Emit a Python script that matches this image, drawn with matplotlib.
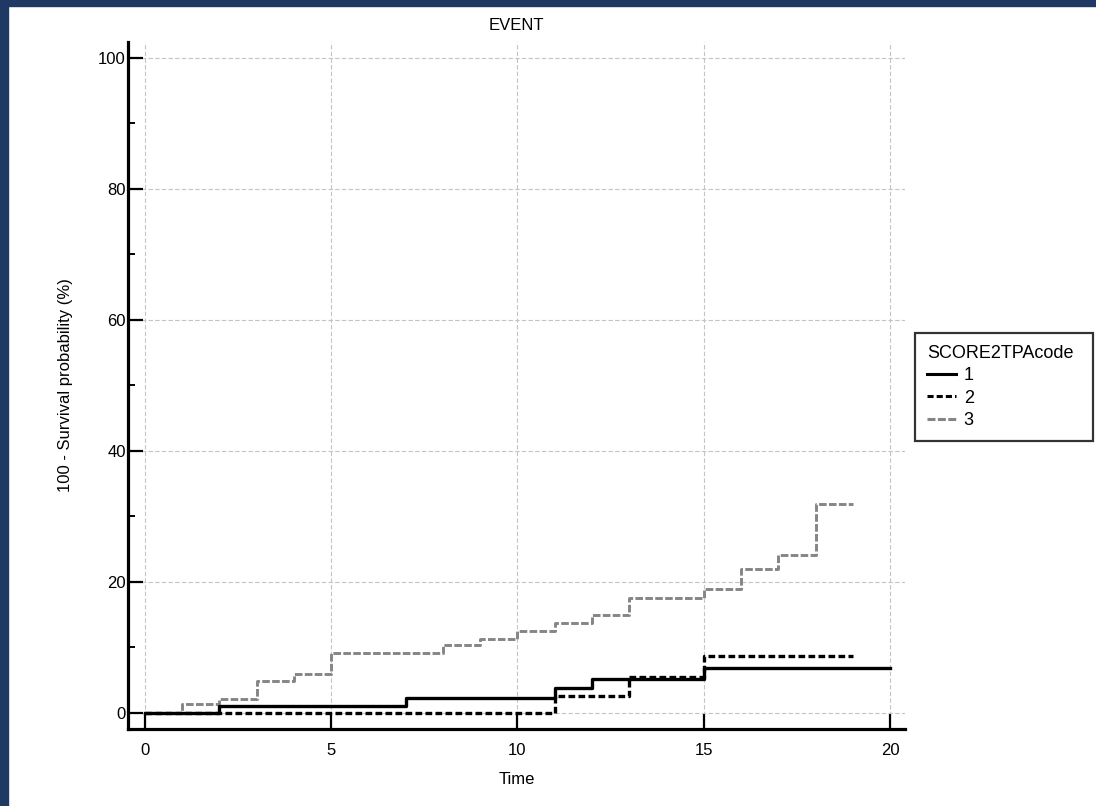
"""Cumulative event curves (100 - survival) by SCORE2TPA code."""

import matplotlib
matplotlib.use("Agg")
import matplotlib.pyplot as plt
from matplotlib.patches import Rectangle
from matplotlib.ticker import MultipleLocator

plt.rcParams["font.family"] = ["Liberation Sans", "DejaVu Sans"]

# ---------------------------------------------------------------------------
# Data (step times and 100 - survival in %)
# ---------------------------------------------------------------------------
code1_t = [0, 2, 7, 11, 12, 15, 20]
code1_y = [0.0, 1.1, 2.3, 3.8, 5.2, 6.8, 6.8]

code2_t = [0, 11, 13, 15, 19]
code2_y = [0.0, 2.65, 5.5, 8.7, 8.7]

code3_t = [0, 1, 2, 3, 4, 5, 8, 9, 10, 11, 12, 13, 15, 16, 17, 18, 19]
code3_y = [0.0, 1.4, 2.2, 4.9, 6.0, 9.1, 10.3, 11.3, 12.5, 13.7, 15.0,
           17.6, 18.9, 22.0, 24.1, 31.9, 31.9]

labels = ["1", "2", "3"]

W, H = 1096, 806
fig = plt.figure(figsize=(W / 100, H / 100), dpi=100)
ax = fig.add_axes([128 / W, (H - 729) / H, (905 - 128) / W, (729 - 42) / H])

ax.step(code1_t, code1_y, where="post", color="black", lw=2.4,
        label=labels[0], zorder=4)
ax.step(code2_t, code2_y, where="post", color="black", lw=2.4,
        linestyle=(0, (2.0, 1.0)), label=labels[1], zorder=3)
ax.step(code3_t, code3_y, where="post", color="#858585", lw=2.1,
        linestyle=(0, (2.6, 0.8)), label=labels[2], zorder=2)

ax.set_xlim(-0.45, 20.4)
ax.set_ylim(-2.45, 102.4)
ax.xaxis.set_major_locator(MultipleLocator(5))
ax.yaxis.set_major_locator(MultipleLocator(20))
ax.yaxis.set_minor_locator(MultipleLocator(10))

for side in ("top", "right"):
    ax.spines[side].set_visible(False)
for side in ("left", "bottom"):
    ax.spines[side].set_linewidth(2.3)

ax.tick_params(axis="both", which="major", direction="in", length=11,
               width=1.6, labelsize=12)
ax.tick_params(axis="x", which="major", pad=10)
ax.tick_params(axis="y", which="major", pad=1.5)
ax.tick_params(axis="y", which="minor", direction="in", length=5, width=1.4)
ax.grid(True, which="major", color="#c4c4c4", linestyle=(0, (4, 2)), lw=0.8)
ax.set_axisbelow(True)

ax.set_title("EVENT", fontsize=12, pad=9)
ax.set_xlabel("Time", fontsize=12, labelpad=10)
ax.set_ylabel("100 - Survival probability (%)", fontsize=12, labelpad=18)

# legend box spans x 915..1093 px, top at y 333 px
leg = fig.legend(loc="upper left",
                 bbox_to_anchor=(915 / W, 1 - 438 / H, 178 / W, 105 / H),
                 mode="expand", title="SCORE2TPAcode", fontsize=13,
                 title_fontsize=13, frameon=True, fancybox=False,
                 handlelength=1.6, handletextpad=0.45, labelspacing=0.3,
                 borderpad=0.65, borderaxespad=0, alignment="left")
leg.get_frame().set_edgecolor("black")
leg.get_frame().set_linewidth(1.6)
for h in leg.get_lines():
    h.set_linewidth(2.2)

# navy frame strips on the left and top edges
navy = "#1f3864"
fig.patches.append(Rectangle((0, 0), 8 / W, 1, transform=fig.transFigure,
                             color=navy, zorder=10))
fig.patches.append(Rectangle((0, 1 - 6 / H), 1, 6 / H,
                             transform=fig.transFigure, color=navy, zorder=10))

fig.savefig("out.png", dpi=100)
